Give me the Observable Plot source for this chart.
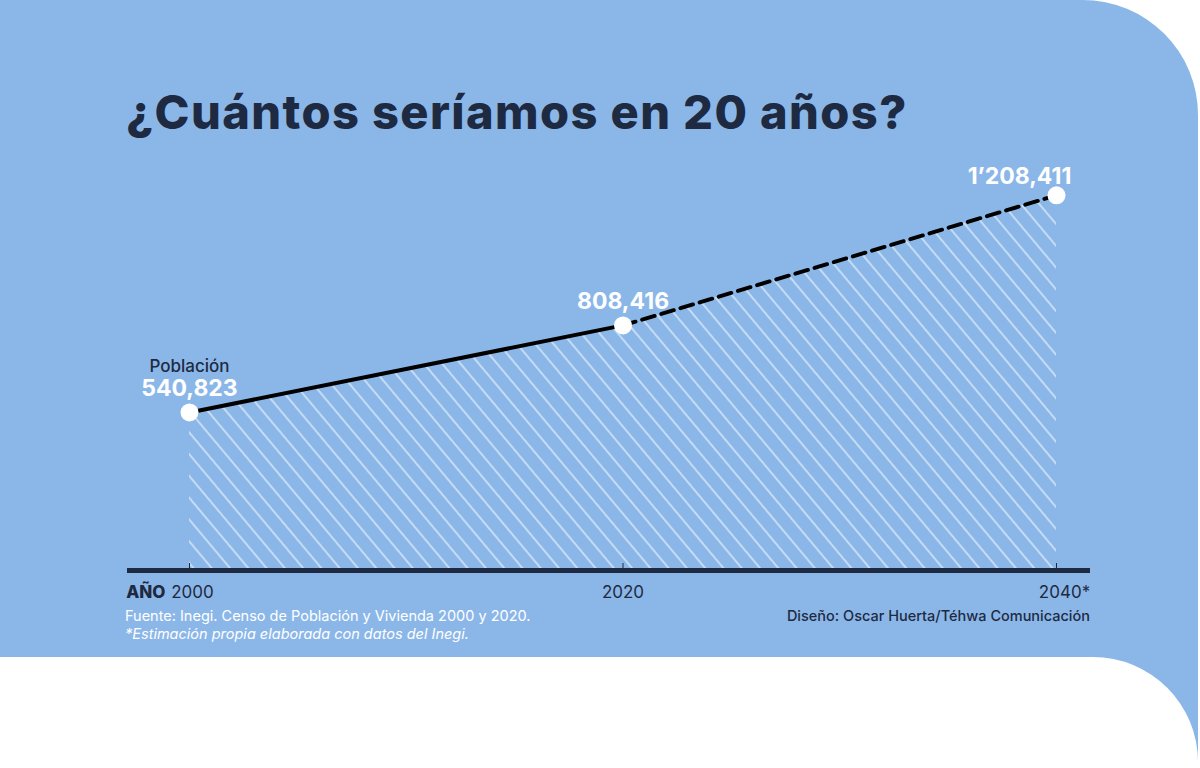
<!DOCTYPE html>
<html>
<head>
<meta charset="utf-8">
<script src="https://cdn.jsdelivr.net/npm/d3@7"></script>
<script src="https://cdn.jsdelivr.net/npm/@observablehq/plot@0.6"></script>
<style>
  html, body { margin: 0; padding: 0; background: #ffffff; }
  #page { position: relative; width: 1200px; height: 768px; overflow: hidden; background: #ffffff; font-family: Inter, "Open Sans", sans-serif; }
  #blue { position: absolute; left: 0; top: 0; width: 1198px; height: 768px; background: #8bb7e8; border-top-right-radius: 115px; }
  #white { position: absolute; left: 0; top: 657px; width: 1198px; height: 140px; background: #ffffff; border-top-right-radius: 105px; }
  #title { position: absolute; left: 126px; top: 83px; font-size: 47px; font-weight: 800; color: #1e2a42; letter-spacing: 1.4px; white-space: nowrap; }
  #chart { position: absolute; left: 0; top: 0; }
  #src { position: absolute; left: 125px; top: 607px; font-size: 14.5px; color: #ffffff; line-height: 18px; }
  #src i { font-style: italic; }
  #credit { position: absolute; right: 110px; top: 607px; font-size: 14.5px; color: #1e2a42; line-height: 18px; font-weight: 500; }
</style>
</head>
<body>
<div id="page">
  <div id="blue"></div>
  <div id="white"></div>
  <div id="chart"></div>
  <div id="title">¿Cuántos seríamos en 20 años?</div>
  <div id="src">Fuente: Inegi. Censo de Población y Vivienda 2000 y 2020.<br><i>*Estimación propia elaborada con datos del Inegi.</i></div>
  <div id="credit">Diseño: Oscar Huerta/Téhwa Comunicación</div>
</div>
<script>
const years = [2000, 2020, 2040];
const population = [540823, 808416, 1208411];
const valueLabels = ["540,823", "808,416", "1’208,411"];
const tickLabels = ["2000", "2020", "2040*"];
const seriesName = "Población";
const axisName = "AÑO";

const yMin = 55000;
const yMax = 1300000;
const navy = "#1e2a42";

const data = years.map((year, i) => ({year, value: population[i], label: valueLabels[i], tick: tickLabels[i]}));
const observed = data.slice(0, 2);
const projected = data.slice(1, 3);

const chart = Plot.plot({
  width: 1200,
  height: 660,
  marginLeft: 189,
  marginRight: 144,
  marginTop: 165,
  marginBottom: 90,
  style: {fontFamily: "Inter, 'Open Sans', sans-serif", background: "transparent", overflow: "visible"},
  x: {domain: [2000, 2040], axis: null},
  y: {domain: [yMin, yMax], axis: null},
  marks: [
    Plot.areaY(data, {x: "year", y1: yMin, y2: "value", fill: "url(#hatch)"}),
    Plot.ruleY([yMin], {stroke: navy, strokeWidth: 5, insetLeft: -62, insetRight: -34}),
    Plot.axisX(years, {tickSize: -7, tickFormat: () => "", label: null, stroke: navy, strokeWidth: 1}),
    Plot.text(data.slice(0, 1), {x: "year", y: yMin, text: "tick", dy: 22, dx: 3, fontSize: 17, fill: navy}),
    Plot.text(data.slice(1, 2), {x: "year", y: yMin, text: "tick", dy: 22, fontSize: 17, fill: navy}),
    Plot.text(data.slice(2), {x: "year", y: yMin, text: "tick", dy: 22, dx: 8, fontSize: 17, fill: navy}),
    Plot.text([data[0]], {x: "year", y: yMin, text: () => axisName, dy: 22, dx: -24, textAnchor: "end", fontSize: 17, fontWeight: 800, fill: navy}),
    Plot.line(observed, {x: "year", y: "value", stroke: "#000000", strokeWidth: 4}),
    Plot.line(projected, {x: "year", y: "value", stroke: "#000000", strokeWidth: 4, strokeDasharray: "13,7"}),
    Plot.dot(data, {x: "year", y: "value", r: 9, fill: "#ffffff"}),
    Plot.text(data.slice(0, 2), {x: "year", y: "value", text: "label", dy: -24, fontSize: 23, fontWeight: 700, fill: "#ffffff"}),
    Plot.text(data.slice(2), {x: "year", y: "value", text: "label", dy: -19, dx: -37, fontSize: 23, fontWeight: 700, fill: "#ffffff"}),
    Plot.text([data[0]], {x: "year", y: "value", text: () => seriesName, dy: -46, fontSize: 17, fontWeight: 500, fill: navy})
  ]
});

// hatch pattern
const svg = d3.select(chart);
const defs = svg.insert("defs", ":first-child");
const pat = defs.append("pattern")
  .attr("id", "hatch")
  .attr("patternUnits", "userSpaceOnUse")
  .attr("width", 14)
  .attr("height", 14)
  .attr("patternTransform", "rotate(-40)");
pat.append("line")
  .attr("x1", 7).attr("y1", 0).attr("x2", 7).attr("y2", 14)
  .attr("stroke", "#ffffff").attr("stroke-width", 1);

document.getElementById("chart").appendChild(chart);
</script>
</body>
</html>
